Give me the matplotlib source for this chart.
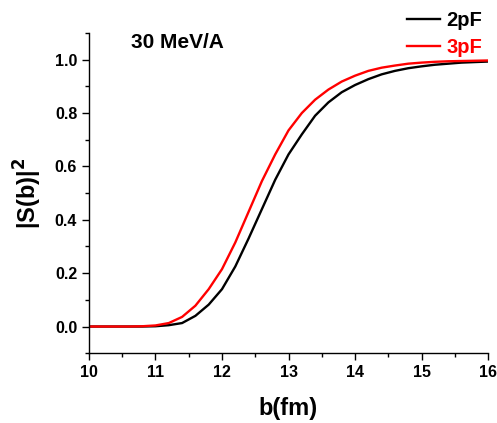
import matplotlib
matplotlib.use("Agg")
from matplotlib import pyplot as plt
from matplotlib.ticker import MultipleLocator, FormatStrFormatter

# impact parameter grid (fm)
b = [10.0, 10.2, 10.4, 10.6, 10.8, 11.0, 11.2, 11.4, 11.6, 11.8,
     12.0, 12.2, 12.4, 12.6, 12.8, 13.0, 13.2, 13.4, 13.6, 13.8,
     14.0, 14.2, 14.4, 14.6, 14.8, 15.0, 15.2, 15.4, 15.6, 15.8, 16.0]

# |S(b)|^2 for the two density models
s_2pf = [0.0, 0.0, 0.0, 0.0, 0.0, 0.001, 0.005, 0.013, 0.04, 0.082,
         0.14, 0.225, 0.33, 0.44, 0.55, 0.645, 0.72, 0.79, 0.84, 0.878,
         0.905, 0.927, 0.945, 0.958, 0.968, 0.975, 0.981, 0.985, 0.989, 0.991, 0.993]
s_3pf = [0.0, 0.0, 0.0, 0.0, 0.001, 0.004, 0.013, 0.036, 0.078, 0.14,
         0.215, 0.315, 0.43, 0.545, 0.645, 0.735, 0.80, 0.85, 0.888, 0.918,
         0.94, 0.958, 0.970, 0.978, 0.985, 0.989, 0.992, 0.994, 0.995, 0.996, 0.997]

plt.rcParams["font.family"] = ["Liberation Sans", "DejaVu Sans"]
plt.rcParams["font.weight"] = "bold"

fig = plt.figure(figsize=(4.97, 4.23), dpi=100)
ax = fig.add_axes([0.179, 0.165, 0.803, 0.757])

ax.plot(b, s_2pf, color="black", lw=1.7, label="2pF")
ax.plot(b, s_3pf, color="red", lw=1.7, label="3pF")

ax.set_xlim(10, 16)
ax.set_ylim(-0.1, 1.1)
ax.xaxis.set_major_locator(MultipleLocator(1))
ax.xaxis.set_minor_locator(MultipleLocator(0.5))
ax.yaxis.set_major_locator(MultipleLocator(0.2))
ax.yaxis.set_minor_locator(MultipleLocator(0.1))
ax.yaxis.set_major_formatter(FormatStrFormatter("%.1f"))
ax.set_yticks([0.0, 0.2, 0.4, 0.6, 0.8, 1.0])

for side in ["top", "right"]:
    ax.spines[side].set_visible(False)
for side in ["left", "bottom"]:
    ax.spines[side].set_linewidth(1.0)

ax.tick_params(which="major", direction="out", length=5, width=1, labelsize=11.5)
ax.tick_params(which="minor", direction="out", length=3, width=1)
for lbl in ax.get_xticklabels() + ax.get_yticklabels():
    lbl.set_fontweight("bold")

ax.set_xlabel("b(fm)", fontsize=17, fontweight="bold", labelpad=12)
ax.set_ylabel("|S(b)|$^\\mathbf{2}$", fontsize=17, fontweight="bold", labelpad=8)

ax.text(10.63, 1.066, "30 MeV/A", fontsize=15, fontweight="bold", va="center", ha="left")

leg = ax.legend(loc="upper right", bbox_to_anchor=(482 / 497, 1 - 11 / 423),
                bbox_transform=fig.transFigure, borderaxespad=0, borderpad=0,
                frameon=False, handlelength=1.65, handletextpad=0.3, labelspacing=0.4,
                labelcolor="linecolor", prop={"size": 14.5, "weight": "bold"})

fig.savefig("out.png", dpi=100)
